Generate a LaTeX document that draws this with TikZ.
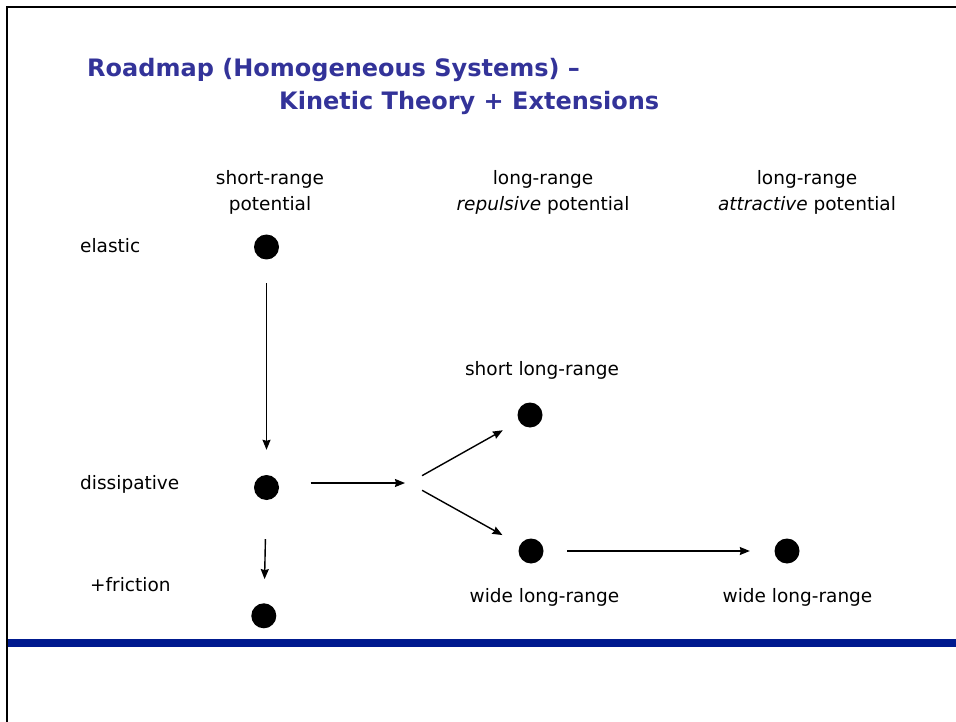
\documentclass[tikz,border=0pt]{standalone}
\usepackage{fontspec}
\setmainfont{DejaVu Sans}
\usetikzlibrary{arrows.meta}

\definecolor{titleblue}{RGB}{51,51,153}
\definecolor{barblue}{RGB}{0,26,143}

\begin{document}
\begin{tikzpicture}[x=1pt,y=-1pt,
    link/.style={draw,line width=1.4pt,-{Stealth[length=10pt,width=8pt,inset=1pt]}},
    dot/.style={circle,fill=black,inner sep=0pt,minimum size=25pt},
    lbl/.style={font=\fontsize{18.5}{26}\selectfont,inner sep=0pt,anchor=base west},
    hdr/.style={font=\fontsize{18.5}{26}\selectfont,inner sep=0pt,anchor=base,align=center},
    ttl/.style={font=\bfseries\fontsize{24}{30}\selectfont,text=titleblue,inner sep=0pt,anchor=base west}]
    \useasboundingbox (0,0) rectangle (956,722);

    % slide frame and footer bar
    \draw[line width=1.5pt] (7,722) -- (7,7) -- (956,7);
    \fill[barblue] (8,639) rectangle (956,647);

    \node[ttl] (title1) at (87,77)  {Roadmap (Homogeneous Systems) --};
    \node[ttl] (title2) at (279,110) {Kinetic Theory + Extensions};

    % column heads (base = last line)
    \node[hdr] (sr) at (270,211) {short-range\\potential};
    \node[hdr] (lr) at (543,211) {long-range\\\textit{repulsive} potential};
    \node[hdr] (la) at (807,211) {long-range\\\textit{attractive} potential};

    % row heads
    \node[lbl] (relastic) at (80,253) {elastic};
    \node[lbl] (rdiss)    at (80,489) {dissipative};
    \node[lbl] (rfric)    at (90,591) {+friction};

    % states
    \node[dot] (el) at (266.5,247)   {};
    \node[dot] (dis) at (266.5,487.5) {};
    \node[dot] (fr) at (263.8,615.8) {};
    \node[dot] (sh) at (530,415)     {};
    \node[dot] (wi) at (531,551)     {};
    \node[dot] (wr) at (787,551)     {};
    \coordinate (fork) at (409,483);

    \node[hdr] (shlbl) at (542,375)   {short long-range};
    \node[hdr] (wilbl) at (544.5,602) {wide long-range};
    \node[hdr] (wrlbl) at (797.5,602) {wide long-range};

    \path (el) edge[link,shorten <=23.5pt,shorten >=25pt] (dis);
    \path (dis) edge[link,shorten <=39pt,shorten >=24pt] (fr);
    \path (dis |- fork) edge[link,shorten <=44pt,shorten >=4pt] (fork);
    \path (fork) edge[link,shorten <=15pt,shorten >=18.5pt] (sh);
    \path (fork) edge[link,shorten <=15pt,shorten >=20pt] (wi);
    \path (wi) edge[link,shorten <=23.5pt,shorten >=24.5pt] (wr);
\end{tikzpicture}
\end{document}
